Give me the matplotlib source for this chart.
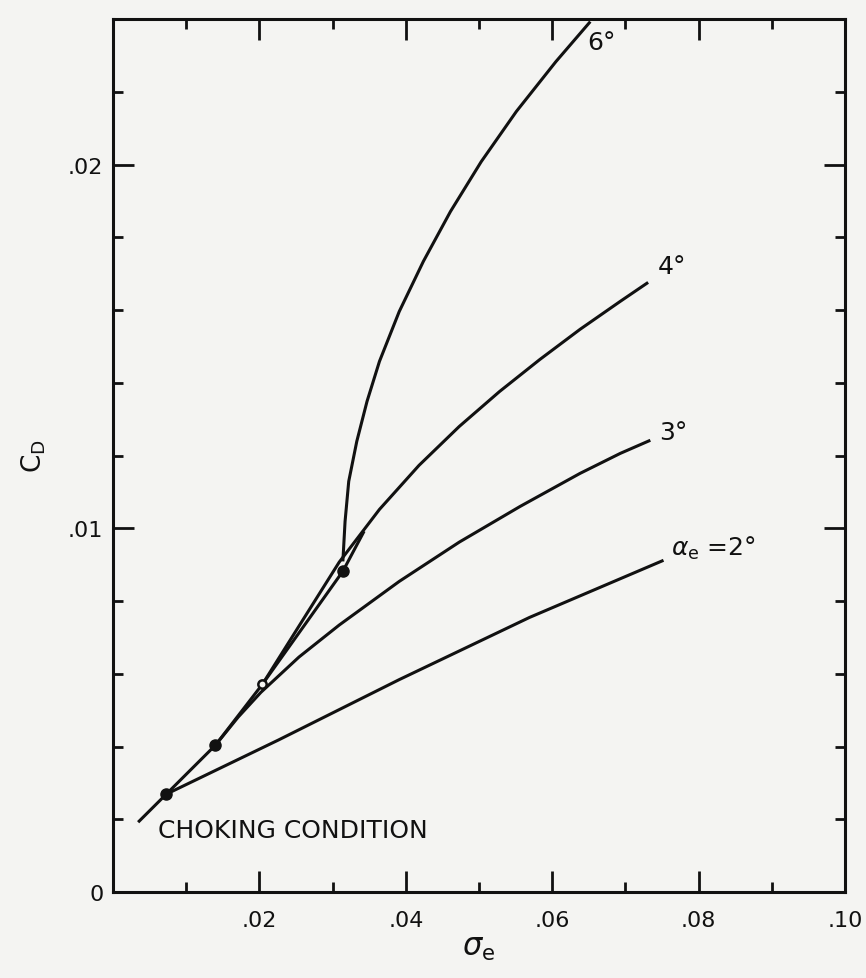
import numpy as np
import matplotlib
matplotlib.use('Agg')
import matplotlib.pyplot as plt
from matplotlib.ticker import MultipleLocator, FixedLocator, FixedFormatter

# drag coefficient vs. cavitation number, one curve per incidence angle
sig_choke = [0.00343, 0.00727, 0.0140, 0.0204, 0.0314, 0.0343]
cd_choke = [0.00192, 0.00269, 0.00404, 0.00571, 0.00882, 0.00992]

sig_2 = [0.00727, 0.0226, 0.0391, 0.0569, 0.0752]
cd_2 = [0.00269, 0.00418, 0.00584, 0.00755, 0.00912]

sig_3 = [0.0140, 0.0171, 0.0202, 0.0254, 0.0309, 0.0391,
         0.0473, 0.0556, 0.0638, 0.0693, 0.0734]
cd_3 = [0.00404, 0.00481, 0.00549, 0.00646, 0.00734, 0.00854,
        0.00962, 0.01060, 0.01151, 0.01206, 0.01242]

sig_4 = [0.0204, 0.0254, 0.0309, 0.0364, 0.0418, 0.0473,
         0.0528, 0.0583, 0.0638, 0.0693, 0.0731]
cd_4 = [0.00571, 0.00731, 0.00907, 0.01052, 0.01173, 0.01280,
        0.01376, 0.01464, 0.01547, 0.01624, 0.01676]

sig_6 = [0.0314, 0.0317, 0.0322, 0.0333, 0.0347, 0.0364, 0.0391,
         0.0424, 0.0461, 0.0503, 0.0551, 0.0605, 0.0652]
cd_6 = [0.00909, 0.01019, 0.01129, 0.01239, 0.01349, 0.01459, 0.01596,
        0.01734, 0.01871, 0.02008, 0.02146, 0.02283, 0.02393]

# choking points where each curve starts
sig_pts = [0.00727, 0.0140, 0.0314]
cd_pts = [0.00269, 0.00404, 0.00882]
sig_open = [0.0204]
cd_open = [0.00571]

plt.rcParams['font.family'] = ['DejaVu Sans']
plt.rcParams['mathtext.fontset'] = 'dejavusans'

bg = '#f4f4f2'
ink = '#111111'

fig = plt.figure(figsize=(8.66, 9.79), dpi=100, facecolor=bg)
ax = fig.add_axes([0.1305, 0.0878, 0.8453, 0.8917], facecolor=bg)

lw = 2.2
for xs, ys in [(sig_choke, cd_choke), (sig_2, cd_2), (sig_3, cd_3),
               (sig_4, cd_4), (sig_6, cd_6)]:
    ax.plot(xs, ys, color=ink, lw=lw, solid_joinstyle='round',
            solid_capstyle='butt', zorder=2)

ax.plot(sig_pts, cd_pts, 'o', color=ink, ms=8, zorder=3)
ax.plot(sig_open, cd_open, 'o', mfc=bg, mec=ink, mew=1.8, ms=6, zorder=3)

ax.set_xlim(0, 0.10)
ax.set_ylim(0, 0.024)

ax.xaxis.set_major_locator(FixedLocator([0.02, 0.04, 0.06, 0.08, 0.10]))
ax.xaxis.set_major_formatter(FixedFormatter(['.02', '.04', '.06', '.08', '.10']))
ax.xaxis.set_minor_locator(MultipleLocator(0.01))
ax.yaxis.set_major_locator(FixedLocator([0, 0.01, 0.02]))
ax.yaxis.set_major_formatter(FixedFormatter(['0', '.01', '.02']))
ax.yaxis.set_minor_locator(MultipleLocator(0.002))

ax.tick_params(which='both', direction='in', top=True, right=True,
               color=ink, width=2.0, labelcolor=ink, labelsize=16)
ax.tick_params(which='major', length=15)
ax.tick_params(which='minor', length=7)
ax.tick_params(axis='x', which='major', pad=13)
ax.tick_params(axis='y', which='major', pad=7)

for s in ax.spines.values():
    s.set_linewidth(2.2)
    s.set_color(ink)

ax.set_xlabel(r'$\sigma_\mathrm{e}$', fontsize=22, color=ink, labelpad=2)
ax.set_ylabel(r'$\mathrm{C_D}$', fontsize=19, color=ink, labelpad=14)

lab = dict(fontsize=18, color=ink, ha='left', va='center')
ax.text(0.0062, 0.00170, 'CHOKING CONDITION', **lab)
ax.text(0.0762, 0.00948, r'$\alpha_\mathrm{e}$ =2°', **lab)
ax.text(0.0746, 0.01264, '3°', **lab)
ax.text(0.0744, 0.01720, '4°', **lab)
ax.text(0.0648, 0.02338, '6°', **lab)

fig.savefig('out.png', dpi=100, facecolor=bg)
